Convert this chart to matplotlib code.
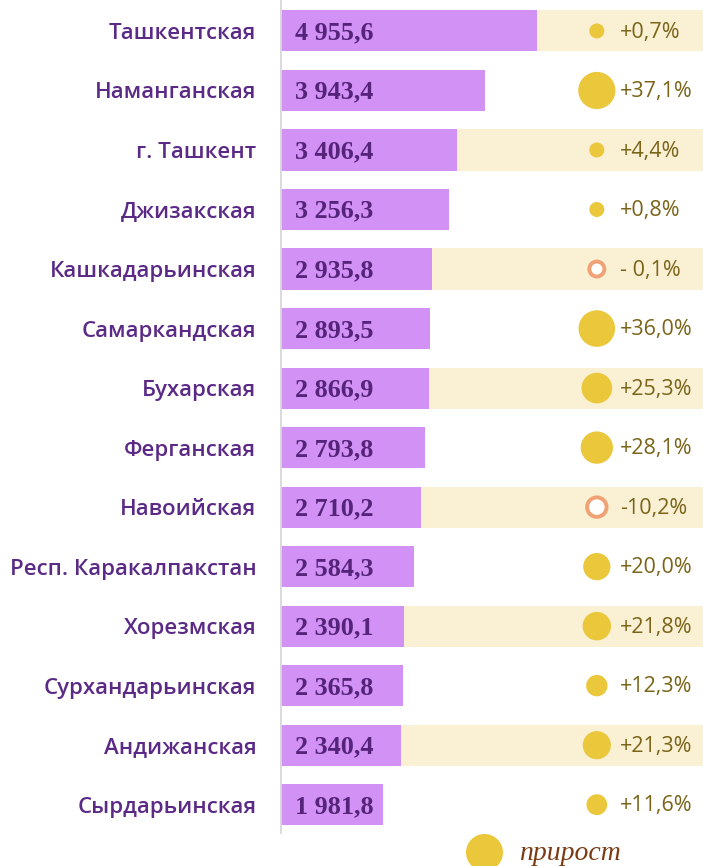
import numpy as np
import matplotlib
matplotlib.use('Agg')
import matplotlib.pyplot as plt
import matplotlib.transforms as mtransforms

# regional figures and growth over the previous period
regions = ['Ташкентская', 'Наманганская', 'г. Ташкент', 'Джизакская',
           'Кашкадарьинская', 'Самаркандская', 'Бухарская', 'Ферганская',
           'Навоийская', 'Респ. Каракалпакстан', 'Хорезмская',
           'Сурхандарьинская', 'Андижанская', 'Сырдарьинская']
values = [4955.6, 3943.4, 3406.4, 3256.3, 2935.8, 2893.5, 2866.9, 2793.8,
          2710.2, 2584.3, 2390.1, 2365.8, 2340.4, 1981.8]
growth = [0.7, 37.1, 4.4, 0.8, -0.1, 36.0, 25.3, 28.1, -10.2, 20.0, 21.8,
          12.3, 21.3, 11.6]
growth_labels = ['+0,7%', '+37,1%', '+4,4%', '+0,8%', '- 0,1%', '+36,0%',
                 '+25,3%', '+28,1%', '-10,2%', '+20,0%', '+21,8%', '+12,3%',
                 '+21,3%', '+11,6%']

BAR = '#d291f5'
BAND = '#faf0d4'
TXT = '#5b2a86'
GOLD = '#ebc73b'
NEG = '#f0a275'
PCT = '#7a6418'

fig = plt.figure(figsize=(7.03, 8.66), dpi=100)
ax = fig.add_axes([280 / 703, 0, 423 / 703, 1])

y = np.arange(len(regions))
ax.set_xlim(0, 8150)
ax.set_ylim(14.03, -0.52)

# cream bands on every other row
for i in y[::2]:
    ax.barh(i, 8150, height=0.69, color=BAND, zorder=0)
ax.barh(y, values, height=0.69, color=BAR, zorder=1)

for i, v in enumerate(values):
    s = f'{v:,.1f}'.replace(',', ' ').replace('.', ',')
    ax.text(290, i + 0.03, s, ha='left', va='center', fontsize=18.8,
            fontweight='bold', family='Liberation Serif', color='#55237a',
            zorder=3)

# growth circles
trans = mtransforms.blended_transform_factory(ax.transAxes, ax.transData)
g = np.array(growth)
diam = np.maximum(15, 6.1 * np.sqrt(np.abs(g)))
sizes = (diam * 0.72) ** 2
pos = g >= 0
ax.scatter(np.full(pos.sum(), 0.749), y[pos], s=sizes[pos], color=GOLD,
           transform=trans, zorder=4, linewidths=0)
ax.scatter(np.full((~pos).sum(), 0.749), y[~pos], s=sizes[~pos],
           facecolor='white', edgecolor=NEG, linewidths=2.8,
           transform=trans, zorder=4)
for i, lab in enumerate(growth_labels):
    ax.text(0.803, i + 0.02, lab, transform=trans, ha='left', va='center',
            fontsize=15.5, family='Open Sans', color=PCT, zorder=4)

# legend
ax.scatter([0.482], [13.8], s=(37 * 0.72) ** 2, color=GOLD, transform=trans,
           clip_on=False, linewidths=0, zorder=4)
ax.text(0.565, 13.82, 'прирост', transform=trans, ha='left', va='center',
        fontsize=20, style='italic', family='Liberation Serif',
        color='#7b3b12')

ax.axvline(0, ymin=1 - 832 / 866, ymax=1, color='#d9d9d9', lw=2, zorder=5)

ax.set_yticks(y)
ax.set_yticklabels(regions, fontsize=16, family='Open Sans',
                   fontweight='semibold', color=TXT)
ax.tick_params(axis='y', length=0, pad=17)
ax.set_xticks([])
for sp in ax.spines.values():
    sp.set_visible(False)

fig.savefig('out.png', dpi=100)
